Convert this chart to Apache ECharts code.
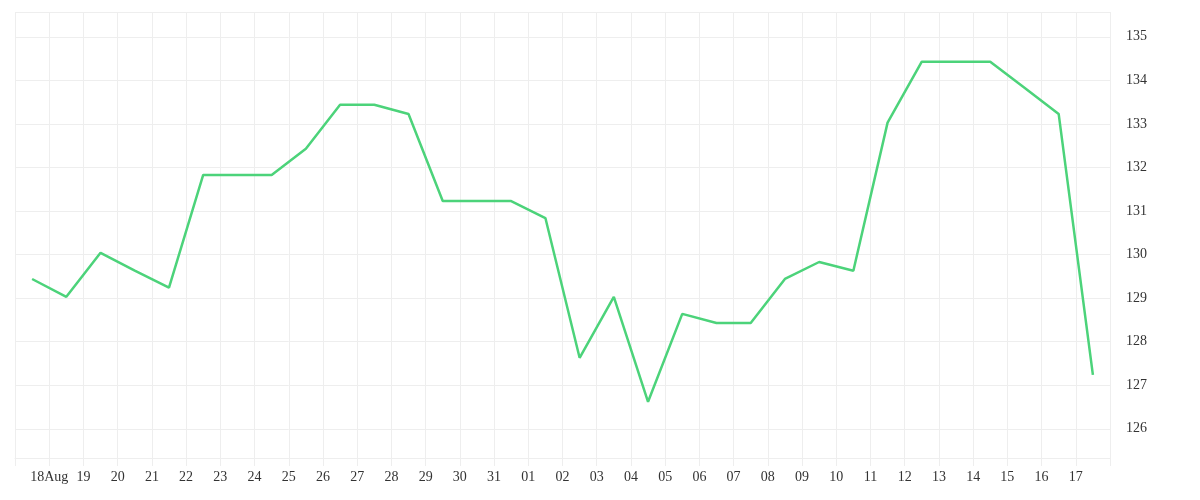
<!DOCTYPE html><html><head><meta charset="utf-8">
<script src="https://cdn.jsdelivr.net/npm/echarts@6/dist/echarts.min.js"></script>
<style>html,body{margin:0;background:#fff}#c{width:1200px;height:500px}</style></head><body><div id="c"></div>
<script>
const pointDates = ['08-18','08-19','08-20','08-21','08-22','08-23','08-24','08-25','08-26','08-27','08-28','08-29','08-30','08-31','09-01','09-02','09-03','09-04','09-05','09-06','09-07','09-08','09-09','09-10','09-11','09-12','09-13','09-14','09-15','09-16','09-17','09-18'];
const values = [129.44,129.03,130.04,129.63,129.24,131.83,131.83,131.83,132.43,133.44,133.44,133.23,131.23,131.23,131.23,130.84,127.63,129.03,126.62,128.64,128.43,128.43,129.44,129.83,129.63,133.03,134.43,134.43,134.43,133.83,133.23,127.24];
const tickLabels = ['','18Aug','19','20','21','22','23','24','25','26','27','28','29','30','31','01','02','03','04','05','06','07','08','09','10','11','12','13','14','15','16','17',''];
const font = 'Liberation Serif';
const chart = echarts.init(document.getElementById('c'));
chart.setOption({
  animation:false,
  grid:{left:15,right:90,top:12,bottom:42},
  xAxis:[
    {type:'category',data:pointDates,boundaryGap:true,show:false},
    {type:'category',data:tickLabels,boundaryGap:false,position:'bottom',
     axisLine:{lineStyle:{color:'#eeeeee'}},
     axisTick:{length:8,lineStyle:{color:'#eeeeee'}},
     axisLabel:{color:'#333',fontFamily:font,fontSize:14,interval:0,margin:12},
     splitLine:{show:true,lineStyle:{color:'#eeeeee'}}}
  ],
  yAxis:{type:'value',position:'right',min:125.33,max:135.57,splitNumber:10,
    axisLine:{show:false},axisTick:{show:false},
    axisLabel:{color:'#333',fontFamily:font,fontSize:14,margin:16,formatter:v=>Number.isInteger(v)?String(v):''},
    splitLine:{lineStyle:{color:'#eeeeee'}}},
  series:[{type:'line',xAxisIndex:0,data:values,symbol:'none',
    lineStyle:{color:'#4cd37a',width:2.5}}]
});
</script></body></html>
